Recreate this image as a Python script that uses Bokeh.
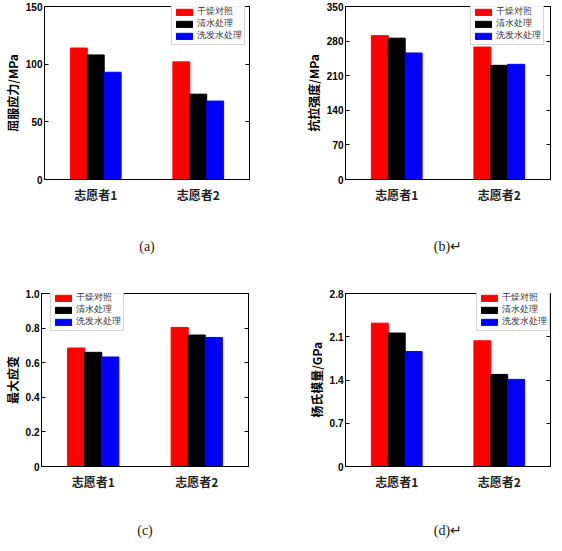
from bokeh.plotting import figure
from bokeh.models import FactorRange, Range1d, LinearAxis, FixedTicker, Legend, LegendItem, ColumnDataSource
from bokeh.transform import dodge
from bokeh.layouts import column, row
from bokeh.embed import file_html
from bokeh.resources import INLINE

# ---- data ----
groups = ["志愿者1", "志愿者2"]
series_names = ["干燥对照", "清水处理", "洗发水处理"]
series_colors = ["#FF0000", "#000000", "#0000FF"]

yield_dry = [114, 102]
yield_water = [108, 74]
yield_shampoo = [93, 68]
yield_ticks = [0, 50, 100, 150]

tensile_dry = [291, 268]
tensile_water = [286, 231]
tensile_shampoo = [256, 233]
tensile_ticks = [0, 70, 140, 210, 280, 350]

strain_dry = [0.685, 0.804]
strain_water = [0.66, 0.76]
strain_shampoo = [0.633, 0.746]
strain_ticks = [0, 0.2, 0.4, 0.6, 0.8, 1.0]

modulus_dry = [2.32, 2.035]
modulus_water = [2.16, 1.49]
modulus_shampoo = [1.86, 1.41]
modulus_ticks = [0, 0.7, 1.4, 2.1, 2.8]

CJK = "Noto Sans CJK SC"
LAT = "Liberation Sans"
SERIF = "Liberation Serif"


def make_panel(values, ticks, ylabel, caption, width, height, borders, legend_xy, label_fmt, cap_standoff):
    left, right, top, bottom = borders
    p = figure(x_range=FactorRange(*groups), y_range=Range1d(ticks[0], ticks[-1]),
               width=width, height=height, output_backend="svg", toolbar_location=None,
               min_border_left=left, min_border_right=right, min_border_top=top,
               min_border_bottom=bottom)
    p.xgrid.visible = False
    p.ygrid.visible = False
    p.outline_line_color = "black"
    p.outline_line_width = 1
    p.background_fill_color = "white"
    p.border_fill_color = "white"

    src = ColumnDataSource(dict(g=groups, a=values[0], b=values[1], c=values[2]))
    bw = 0.165
    offs = [-bw, 0.0, bw]
    items = []
    for key, off, col, name in zip(["a", "b", "c"], offs, series_colors, series_names):
        r = p.vbar(x=dodge("g", off, range=p.x_range), top=key, width=bw, source=src,
                   fill_color=col, line_color=col)
        items.append(LegendItem(label=name, renderers=[r]))

    # y axis
    ya = p.yaxis[0]
    ya.ticker = FixedTicker(ticks=ticks)
    ya.major_label_overrides = {t: label_fmt(t) for t in ticks}
    ya.major_tick_in = 4
    ya.major_tick_out = 0
    ya.minor_tick_line_color = None
    ya.major_label_text_font = LAT
    ya.major_label_text_font_style = "bold"
    ya.major_label_text_font_size = "10px"
    ya.major_label_text_color = "black"
    ya.major_label_standoff = 2
    ya.axis_label = ylabel
    ya.axis_label_text_font = CJK
    ya.axis_label_text_font_style = "bold"
    ya.axis_label_text_font_size = "12px"
    ya.axis_label_text_color = "black"
    ya.axis_label_standoff = 2
    ya.axis_line_color = "black"

    ra = LinearAxis(ticker=FixedTicker(ticks=ticks), major_tick_in=4, major_tick_out=0,
                    minor_tick_line_color=None, major_label_text_font_size="0px",
                    major_label_standoff=0, axis_line_color="black")
    ra.major_label_overrides = {t: "" for t in ticks}
    p.add_layout(ra, "right")

    # x axis
    xa = p.xaxis[0]
    xa.major_tick_line_color = None
    xa.minor_tick_line_color = None
    xa.major_label_text_font = CJK
    xa.major_label_text_font_style = "bold"
    xa.major_label_text_font_size = "12px"
    xa.major_label_text_color = "#222222"
    xa.major_label_standoff = 0
    xa.axis_line_color = "black"
    xa.axis_label = caption
    xa.axis_label_text_font = SERIF
    xa.axis_label_text_font_style = "normal"
    xa.axis_label_text_font_size = "14px"
    xa.axis_label_text_color = "#222222"
    xa.axis_label_standoff = cap_standoff

    legend = Legend(items=items, location=legend_xy)
    legend.label_text_font = SERIF
    legend.label_text_font_size = "8.5px"
    legend.label_text_color = "#333333"
    legend.glyph_width = 20
    legend.glyph_height = 8
    legend.label_height = 8
    legend.label_standoff = 3
    legend.spacing = -3
    legend.padding = 2
    legend.margin = 0
    legend.border_line_color = "#aaaaaa"
    legend.border_line_width = 1
    legend.background_fill_color = "white"
    p.add_layout(legend)
    return p


def fmt_int(t):
    return str(int(t))


def fmt_dec(t):
    return "0" if t == 0 else f"{t:.1f}"


pa = make_panel([yield_dry, yield_water, yield_shampoo], yield_ticks, "屈服应力/MPa", "(a)",
                301, 289, (43, 52, 6, 110), (127, 134), fmt_int, 33)
pb = make_panel([tensile_dry, tensile_water, tensile_shampoo], tensile_ticks, "抗拉强度/MPa", "(b)↵",
                261, 289, (43, 12, 6, 110), (125, 134), fmt_int, 33)
pc = make_panel([strain_dry, strain_water, strain_shampoo], strain_ticks, "最大应变", "(c)",
                301, 262, (41, 53, 4, 85), (9, 135), fmt_dec, 30)
pd = make_panel([modulus_dry, modulus_water, modulus_shampoo], modulus_ticks, "杨氏模量/GPa", "(d)↵",
                261, 262, (44, 12, 4, 85), (131, 135), fmt_dec, 30)

layout = column(row(pa, pb), row(pc, pd))
open("out.html", "w").write(file_html(layout, INLINE))
